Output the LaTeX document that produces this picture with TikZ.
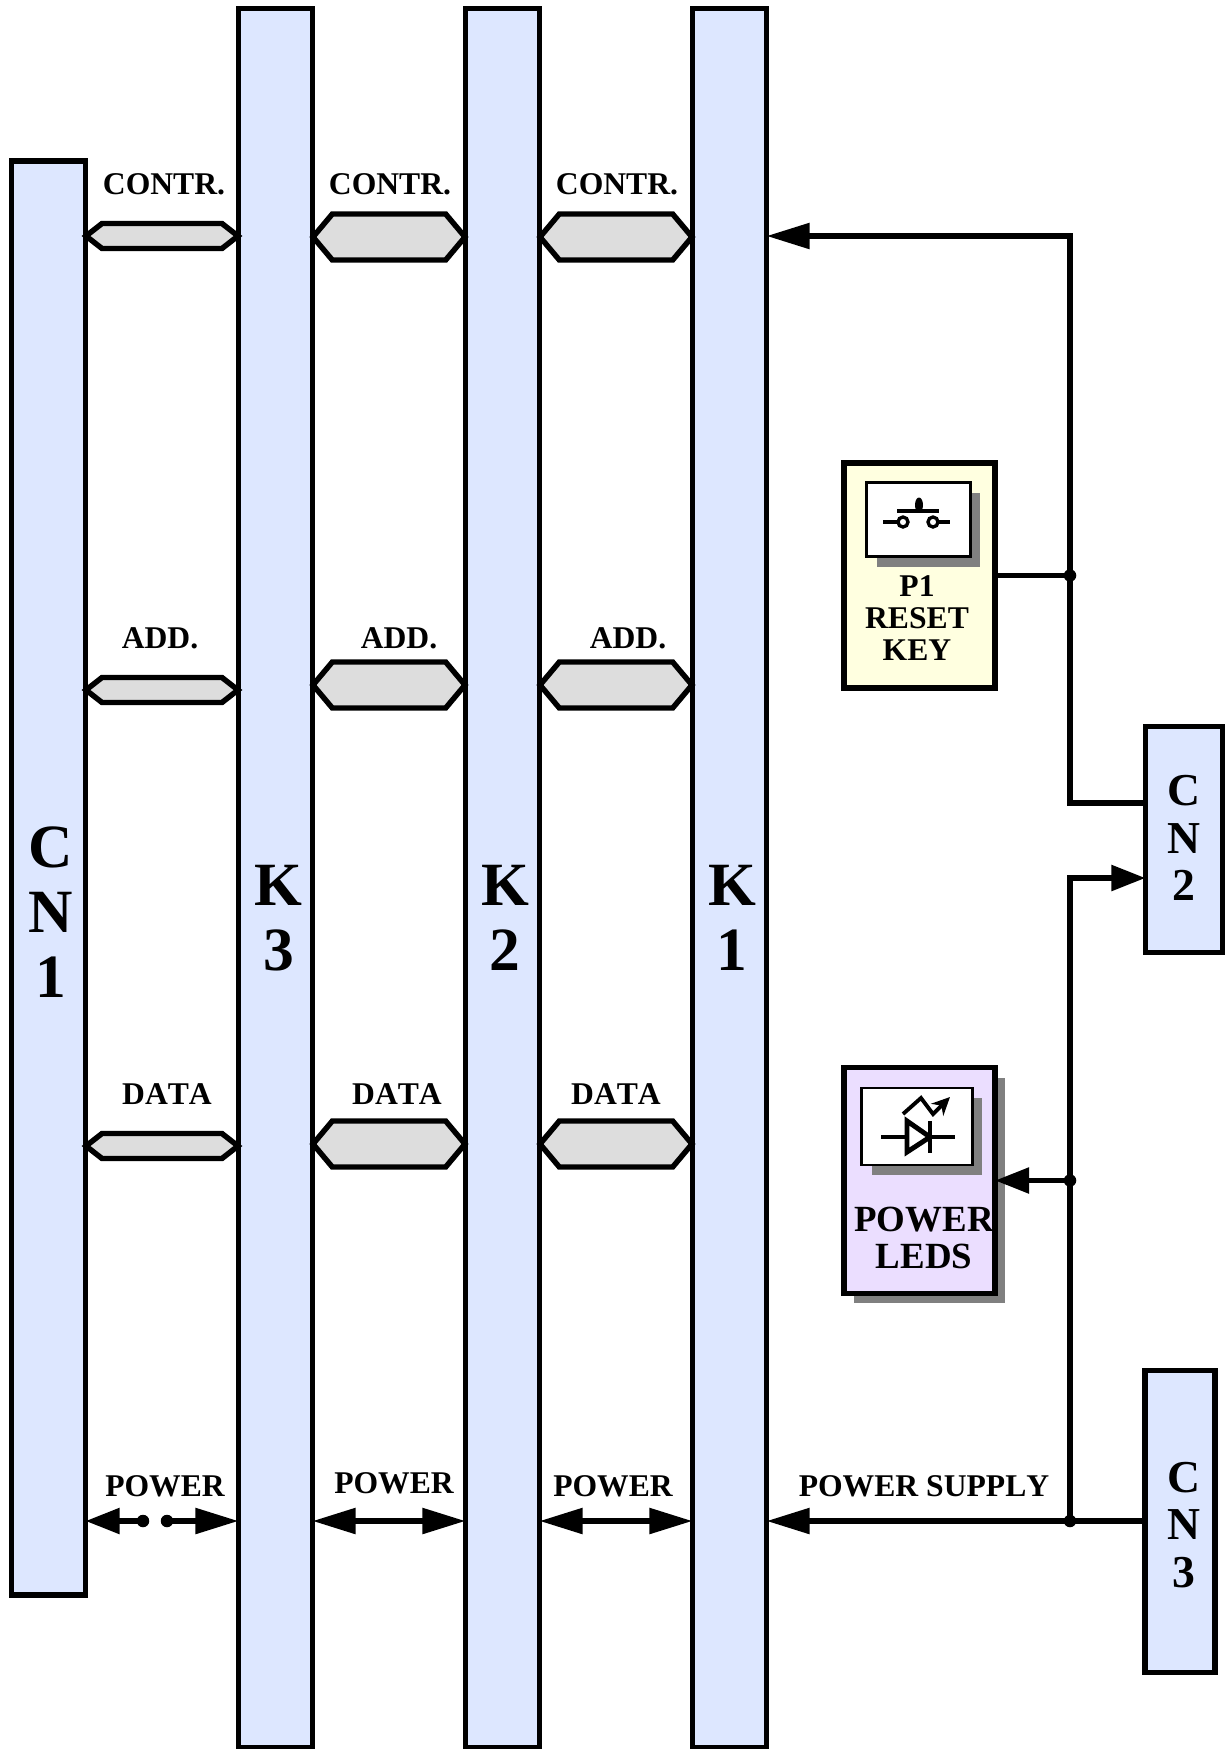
\documentclass[tikz,border=0pt]{standalone}
\usepackage{fontspec}
\setmainfont[Kerning=Off]{Liberation Serif}
\usetikzlibrary{arrows.meta,shapes.symbols,shadows}
\definecolor{barblue}{HTML}{DDE7FF}
\definecolor{keyyellow}{HTML}{FFFFE0}
\definecolor{ledlilac}{HTML}{EBDEFF}
\definecolor{busgray}{HTML}{DDDDDD}
\tikzset{
  >={Triangle[length=.86cm,width=.5cm]},
  shorttip/.style={>={Triangle[length=.68cm,width=.5cm]}},
  bar/.style={draw,line width=3.1pt,fill=barblue,inner sep=0pt},
  barname/.style={align=center,inner sep=0pt,font=\bfseries\fontsize{35}{37}\selectfont},
  smallname/.style={align=center,inner sep=0pt,font=\bfseries\fontsize{26}{27}\selectfont},
  panel/.style={draw,line width=3.1pt,minimum width=3.02cm,inner sep=0pt},
  icon/.style={draw,line width=1.5pt,fill=white,inner sep=0pt,general shadow={shadow xshift=.2cm,shadow yshift=-.2cm,fill=black!50}},
  thinbus/.style={draw,line width=3.1pt,fill=busgray,shape=signal,signal to=west and east,signal pointer angle=76,inner sep=0pt,minimum width=3.04cm,minimum height=.5cm},
  thickbus/.style={draw,line width=3.1pt,fill=busgray,shape=signal,signal to=west and east,signal pointer angle=100,inner sep=0pt,minimum width=3.04cm,minimum height=.92cm},
  lbl/.style={inner sep=0pt,font=\bfseries\fontsize{18}{18}\selectfont},
  wire/.style={line width=3.1pt,shorten >=-1.5pt,shorten <=-1.5pt},
  dot/.style={circle,fill=black,inner sep=0pt,minimum size=.25cm}
}
\begin{document}
\begin{tikzpicture}[x=.02cm,y=-.02cm]
\useasboundingbox (0,0) rectangle (1225,1749);
% bars
\node [bar,minimum width=1.48cm,minimum height=28.69cm] (cn1) at (48.5,878) {};
\node [bar,minimum width=1.48cm,minimum height=34.78cm] (k3) at (275.5,878) {};
\node [bar,minimum width=1.48cm,minimum height=34.78cm] (k2) at (502.5,878) {};
\node [bar,minimum width=1.48cm,minimum height=34.78cm] (k1) at (729.5,878) {};
\node [bar,minimum width=1.54cm,minimum height=4.52cm] (cn2) at (1184,839.5) {};
\node [bar,minimum width=1.40cm,minimum height=6.04cm] (cn3) at (1180,1521.5) {};
\node [barname] (lcn1) at (51,912) {C\\N\\1};
\node [barname] (lk3) at (278.5,918) {K\\3};
\node [barname] (lk2) at (505,918) {K\\2};
\node [barname] (lk1) at (732,918) {K\\1};
\node [smallname] (lcn2) at (1184,838) {C\\N\\2};
\node [smallname] (lcn3) at (1184,1525) {C\\N\\3};
% buses
\node [thinbus] (contr3) at (162,236) {};
\node [thickbus] (contr2) at (389,237) {};
\node [thickbus] (contr1) at (616,237) {};
\node [thinbus] (add3) at (162,690) {};
\node [thickbus] (add2) at (389,685) {};
\node [thickbus] (add1) at (616,685) {};
\node [thinbus] (data3) at (162,1146) {};
\node [thickbus] (data2) at (389,1144) {};
\node [thickbus] (data1) at (616,1144) {};
% bus labels
\node [lbl] (lcontr3) at (164,184) {CONTR.};
\node [lbl] (lcontr2) at (390,184) {CONTR.};
\node [lbl] (lcontr1) at (617,184) {CONTR.};
\node [lbl] (ladd3) at (160,638) {ADD.};
\node [lbl] (ladd2) at (399,638) {ADD.};
\node [lbl] (ladd1) at (628,638) {ADD.};
\node [lbl] (ldata3) at (167,1094) {DATA};
\node [lbl] (ldata2) at (397,1094) {DATA};
\node [lbl] (ldata1) at (616,1094) {DATA};
\node [lbl] (lpow3) at (165,1486) {POWER};
\node [lbl] (lpow2) at (394,1483) {POWER};
\node [lbl] (lpow1) at (613,1486) {POWER};
\node [lbl] (lsupply) at (924,1486) {POWER SUPPLY};
% reset key
\node [panel,fill=keyyellow,minimum height=4.5cm] (reset) at (919.5,575.5) {};
\node [icon,minimum width=2.08cm,minimum height=1.48cm] (reseticon) at (918.5,519.5) {};
\node [lbl,align=center] (lreset) at (917,618) {P1\\RESET\\KEY};
\draw [line width=1.9pt] (883,522) -- (898,522);
\draw [line width=1.9pt] (938,522) -- (950,522);
\draw [line width=1.9pt] (897,511) -- (939,511);
\draw [line width=1.9pt] (903,522) circle (5);
\draw [line width=1.9pt] (933,522) circle (5);
\fill (919,505) ellipse (4 and 7.5);
% power leds
\node [panel,fill=ledlilac,minimum height=4.52cm,general shadow={shadow xshift=.2cm,shadow yshift=-.2cm,fill=black!50}] (leds) at (919.5,1180.5) {};
\node [icon,minimum width=2.22cm,minimum height=1.54cm] (ledicon) at (917,1126.5) {};
\node [inner sep=0pt,align=center,font=\bfseries\fontsize{21}{21}\selectfont] (lleds) at (924,1238) {POWER\\LEDS};
\draw [line width=2.8pt] (881,1137) -- (955,1137);
\draw [line width=2.8pt,fill=white] (907,1121) -- (907,1152) -- (930,1137) -- cycle;
\draw [line width=2.8pt] (930,1121) -- (930,1153);
\draw [line width=2.2pt,-{Stealth[length=.36cm,width=.34cm]}] (903,1114) -- (921,1098) -- (933,1114) -- (950,1097);
% wiring
\node [dot] (jreset) at (1070,575.5) {};
\node [dot] (jleds) at (1070,1180.5) {};
\node [dot] (jsupply) at (1070,1521) {};
\coordinate (ctop) at (1070,236);
\coordinate (cout) at (1070,803);
\coordinate (cin) at (1070,878);
\draw [wire,->] (cout -| cn2.west) -- (cout) -- (ctop) -- (ctop -| k1.east);
\draw [wire,shorttip,->] (jsupply) -- (cin) -- (cin -| cn2.west);
\draw [wire] (reset.east) -- (jreset);
\draw [wire,shorttip,->] (jleds) -- (leds.east);
\draw [wire,->] (cn3.west |- jsupply) -- (k1.east |- jsupply);
% power arrows
\node [dot] (dotl) at (143,1521) {};
\node [dot] (dotr) at (167,1521) {};
\draw [wire,shorttip,<-] (cn1.east |- dotl) -- (dotl);
\draw [wire,->] (dotr) -- (k3.west |- dotr);
\coordinate (pwb) at (389,1521);
\coordinate (pwa) at (616,1521);
\draw [wire,<->] (k3.east |- pwb) -- (k2.west |- pwb);
\draw [wire,<->] (k2.east |- pwa) -- (k1.west |- pwa);
\end{tikzpicture}
\end{document}
